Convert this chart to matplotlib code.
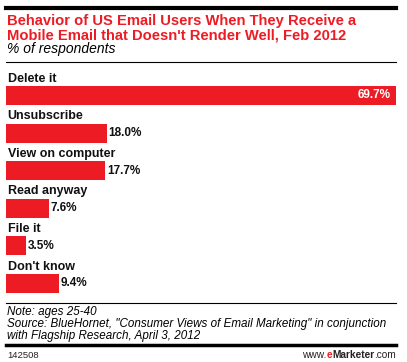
import matplotlib.pyplot as plt
from matplotlib.lines import Line2D

plt.rcParams['font.family'] = ['Liberation Sans', 'DejaVu Sans']

# data
categories = ["Delete it", "Unsubscribe", "View on computer",
              "Read anyway", "File it", "Don't know"]
values = [69.7, 18.0, 17.7, 7.6, 3.5, 9.4]

RED = '#ED1C24'
W, H = 407, 362


def fy(py):
    # pixel row -> figure fraction
    return 1 - py / H


def fx(px):
    return px / W


fig = plt.figure(figsize=(W / 100, H / 100), dpi=100)

# header
fig.add_artist(Line2D([fx(6), fx(396)], [fy(8), fy(8)], color='black', lw=3))
fig.text(fx(7), fy(25), "Behavior of US Email Users When They Receive a",
         color=RED, fontsize=10.6, fontweight='bold', va='baseline')
fig.text(fx(7), fy(39.5), "Mobile Email that Doesn't Render Well, Feb 2012",
         color=RED, fontsize=10.6, fontweight='bold', va='baseline')
fig.text(fx(7), fy(52.5), "% of respondents", color='black', fontsize=10,
         fontstyle='italic', va='baseline')
fig.add_artist(Line2D([fx(6), fx(396)], [fy(61.5), fy(61.5)], color='black',
                      lw=0.8))

# bars
unit = 37.6
top_px = 95.5 - 0.5 * unit
bot_px = 283.5 + 0.5 * unit
ax = fig.add_axes([fx(6), fy(bot_px), fx(396) - fx(6), (bot_px - top_px) / H])
ypos = list(range(len(categories)))
ax.barh(ypos, values, height=0.51, color=RED, left=0)
ax.set_xlim(0, max(values))
ax.set_ylim(len(categories) - 0.5, -0.5)
ax.axis('off')

for i, (cat, v) in enumerate(zip(categories, values)):
    ax.text(0.3, i - 0.37, cat, fontsize=9, fontweight='bold',
            va='baseline', ha='left', color='#111111')
    if v > 50:
        ax.annotate(f"{v:.1f}%", (v, i), xytext=(-5, 0),
                    textcoords='offset pixels', ha='right', va='center',
                    color='white', fontsize=8.5, fontweight='bold')
    else:
        ax.annotate(f"{v:.1f}%", (v, i), xytext=(2, 0),
                    textcoords='offset pixels', ha='left', va='center',
                    color='#111111', fontsize=8.5, fontweight='bold')

# footer
fig.add_artist(Line2D([fx(6), fx(396)], [fy(303), fy(303)], color='black',
                      lw=0.8))
notes = ["Note: ages 25-40",
         "Source: BlueHornet, \"Consumer Views of Email Marketing\" in conjunction",
         "with Flagship Research, April 3, 2012"]
for k, line in enumerate(notes):
    fig.text(fx(7), fy(314.5 + 12.4 * k), line, fontsize=8.4,
             fontstyle='italic', va='baseline')
fig.add_artist(Line2D([fx(6), fx(396)], [fy(344.5), fy(344.5)], color='black',
                      lw=2.5))
fig.text(fx(7), fy(357.5), "142508", fontsize=6.8, va='baseline',
         color='#222222')

fs = 7.3
t_com = fig.text(fx(396), fy(357.5), ".com", fontsize=fs, va='baseline',
                 ha='right', color='#222222')
t_mk = fig.text(0, 0, "Marketer", fontsize=fs, fontweight='bold',
                va='baseline', ha='right', color='#222222')
t_e = fig.text(0, 0, "e", fontsize=fs, fontweight='bold', va='baseline',
               ha='right', color=RED)
t_www = fig.text(0, 0, "www.", fontsize=fs, va='baseline', ha='right',
                 color='#222222')

fig.canvas.draw()
r = fig.canvas.get_renderer()
inv = fig.transFigure.inverted()
x_right = t_com.get_window_extent(r).x0
for t in (t_mk, t_e, t_www):
    t.set_position((inv.transform((x_right, 0))[0], fy(357.5)))
    fig.canvas.draw()
    x_right = t.get_window_extent(r).x0

fig.savefig('out.png', dpi=100)
